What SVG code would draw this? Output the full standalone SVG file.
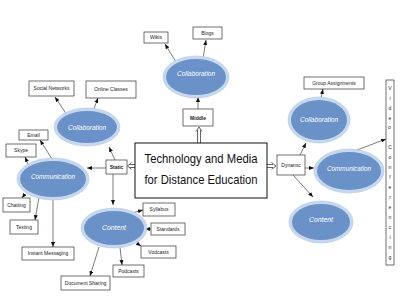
<svg xmlns="http://www.w3.org/2000/svg" width="400" height="296" viewBox="0 0 400 296">
<style>
.bx{fill:#fff;stroke:#333;stroke-width:0.7}
.lb{font-family:"Liberation Sans",Arial,sans-serif;font-size:5px;fill:#222;text-anchor:middle}
.halo{fill:#c6d8ee;stroke:#b4c8e2;stroke-width:0.6}
.el{fill:#6b91c9}
.et{font-family:"Liberation Sans",Arial,sans-serif;font-size:7px;fill:#fff;text-anchor:middle;font-style:italic}
.cn{stroke:#222;stroke-width:0.6;fill:none;marker-end:url(#ah)}
.ho{stroke:#222;stroke-width:0.7;fill:none}
</style>
<defs>
<marker id="ah" markerUnits="userSpaceOnUse" markerWidth="5" markerHeight="4" refX="5" refY="2" orient="auto">
<path d="M0,0 L5,2 L0,4 z" fill="#111"/>
</marker>
</defs>
<rect width="400" height="296" fill="#fff"/>

<g id="connectors">
<path class="cn" d="M176,62 L165,44"/>
<path class="cn" d="M203,59 L206,40"/>
<path class="cn" d="M198,109 L198,97"/>
<path class="ho" d="M197.5,143 V130 M200.5,143 V130 M196,131.5 L199,127 L202,131.5"/>
<path class="ho" d="M135,164.5 H129.5 M135,167.5 H129.5 M131.5,162.5 L127.5,166 L131.5,169.5"/>
<path class="ho" d="M267,164.5 H273 M267,167.5 H273 M271.5,162.5 L276,166 L271.5,169.5"/>
<path class="cn" d="M67,115 L55,97"/>
<path class="cn" d="M93,111 L98,98"/>
<path class="cn" d="M115,160 L109,147"/>
<path class="cn" d="M106,168 L87,168"/>
<path class="cn" d="M113,174 L113,205"/>
<path class="cn" d="M52,159 L40,140"/>
<path class="cn" d="M29,166 L25,157"/>
<path class="cn" d="M25,194 L22,198"/>
<path class="cn" d="M39,197 L35,220"/>
<path class="cn" d="M53,198 L53,247"/>
<path class="cn" d="M128,214 L143,210"/>
<path class="cn" d="M151,229 L145,229"/>
<path class="cn" d="M132,240 L141,246"/>
<path class="cn" d="M120,247 L122,265"/>
<path class="cn" d="M99,247 L90,276"/>
<path class="cn" d="M300,155 L306,143"/>
<path class="cn" d="M305,168 L314,168"/>
<path class="cn" d="M293,175 L313,197"/>
<path class="cn" d="M321,98 L323,89"/>
<path class="cn" d="M357,150 L386,139"/>
</g>

<g id="main">
<rect x="135" y="143" width="132" height="55" fill="#fff" stroke="#111" stroke-width="1"/>
<text x="201" y="163" font-family="'Liberation Sans',Arial,sans-serif" font-size="13" fill="#111" text-anchor="middle" textLength="113" lengthAdjust="spacingAndGlyphs">Technology and Media</text>
<text x="201" y="184" font-family="'Liberation Sans',Arial,sans-serif" font-size="13" fill="#111" text-anchor="middle" textLength="113" lengthAdjust="spacingAndGlyphs">for Distance Education</text>
</g>

<g id="middle"><rect class="bx" x="183" y="109" width="30" height="17"/><text class="lb" x="198" y="119.5" font-weight="bold">Middle</text></g>
<g id="static"><rect class="bx" x="106" y="160" width="21" height="14"/><text class="lb" x="116.5" y="168.8" font-weight="bold" font-size="4.5">Static</text></g>
<g id="dynamic"><rect class="bx" x="277" y="155" width="28" height="20"/><text class="lb" x="291" y="166.5" font-size="4.5">Dynamic</text></g>

<g id="collab-top">
<ellipse class="halo" cx="196" cy="77" rx="33" ry="21"/><ellipse class="el" cx="196" cy="77" rx="30" ry="18"/>
<text class="et" x="196" y="76" textLength="38" lengthAdjust="spacingAndGlyphs">Collaboration</text>
</g>
<g id="wikis"><rect class="bx" x="144" y="32" width="24" height="11"/><text class="lb" x="156" y="39.3">Wikis</text></g>
<g id="blogs"><rect class="bx" x="193" y="27" width="29" height="12"/><text class="lb" x="207.5" y="34.8">Blogs</text></g>

<g id="collab-left">
<ellipse class="halo" cx="87" cy="127" rx="33" ry="19"/><ellipse class="el" cx="87" cy="127" rx="30" ry="16"/>
<text class="et" x="87" y="130" textLength="38" lengthAdjust="spacingAndGlyphs">Collaboration</text>
</g>
<g id="social"><rect class="bx" x="29" y="81" width="45" height="15"/><text class="lb" x="51.5" y="90.3">Social Networks</text></g>
<g id="online"><rect class="bx" x="86" y="81" width="50" height="17"/><text class="lb" x="111" y="91.3">Online Classes</text></g>

<g id="comm-left">
<ellipse class="halo" cx="53" cy="179" rx="36" ry="21"/><ellipse class="el" cx="53" cy="179" rx="33" ry="18"/>
<text class="et" x="53" y="178.5" textLength="44" lengthAdjust="spacingAndGlyphs">Communication</text>
</g>
<g id="email"><rect class="bx" x="19" y="130" width="29" height="10"/><text class="lb" x="33.5" y="136.8" font-size="4.5">Email</text></g>
<g id="skype"><rect class="bx" x="6" y="144" width="30" height="13"/><text class="lb" x="21" y="152.2">Skype</text></g>
<g id="chatting"><rect class="bx" x="3" y="198" width="27" height="14"/><text class="lb" x="16.5" y="206.8">Chatting</text></g>
<g id="texting"><rect class="bx" x="10" y="220" width="28" height="14"/><text class="lb" x="24" y="228.8">Texting</text></g>
<g id="im"><rect class="bx" x="22" y="247" width="52" height="13"/><text class="lb" x="48" y="255.3">Instant Messaging</text></g>

<g id="content-left">
<ellipse class="halo" cx="114" cy="228" rx="33" ry="20"/><ellipse class="el" cx="114" cy="228" rx="30" ry="17"/>
<text class="et" x="114" y="229.5" textLength="24" lengthAdjust="spacingAndGlyphs">Content</text>
</g>
<g id="syllabus"><rect class="bx" x="143" y="203" width="32" height="13"/><text class="lb" x="159" y="211.3">Syllabus</text></g>
<g id="standards"><rect class="bx" x="151" y="223" width="34" height="12"/><text class="lb" x="168" y="230.8">Standards</text></g>
<g id="vodcasts"><rect class="bx" x="141" y="246" width="35" height="12"/><text class="lb" x="158.5" y="253.8">Vodcasts</text></g>
<g id="podcasts"><rect class="bx" x="113" y="265" width="31" height="12"/><text class="lb" x="128.5" y="272.8">Podcasts</text></g>
<g id="docshare"><rect class="bx" x="61" y="276" width="49" height="14"/><text class="lb" x="85.5" y="284.8">Document Sharing</text></g>

<g id="collab-right">
<ellipse class="halo" cx="319" cy="120" rx="31" ry="23"/><ellipse class="el" cx="319" cy="120" rx="28" ry="20"/>
<text class="et" x="319" y="122" textLength="38" lengthAdjust="spacingAndGlyphs">Collaboration</text>
</g>
<g id="group"><rect class="bx" x="304" y="77" width="60" height="12"/><text class="lb" x="334" y="84.8">Group Assignments</text></g>

<g id="comm-right">
<ellipse class="halo" cx="349" cy="171" rx="35" ry="22"/><ellipse class="el" cx="349" cy="171" rx="32" ry="19"/>
<text class="et" x="349" y="170.5" font-style="normal" textLength="44" lengthAdjust="spacingAndGlyphs">Communication</text>
</g>

<g id="content-right">
<ellipse class="halo" cx="321" cy="222" rx="32" ry="21"/><ellipse class="el" cx="321" cy="222" rx="29" ry="18"/>
<text class="et" x="321" y="221.5" textLength="24" lengthAdjust="spacingAndGlyphs">Content</text>
</g>

<g id="video">
<rect class="bx" x="386" y="80" width="8" height="185"/>
<text class="lb" font-size="5.5">
<tspan x="390" y="90">V</tspan><tspan x="390" y="100">i</tspan><tspan x="390" y="110">d</tspan><tspan x="390" y="120">e</tspan><tspan x="390" y="129">o</tspan>
<tspan x="390" y="149">C</tspan><tspan x="390" y="159">o</tspan><tspan x="390" y="169">n</tspan><tspan x="390" y="179">f</tspan><tspan x="390" y="189">e</tspan><tspan x="390" y="199">r</tspan><tspan x="390" y="209">e</tspan><tspan x="390" y="219">n</tspan><tspan x="390" y="229">c</tspan><tspan x="390" y="239">i</tspan><tspan x="390" y="249">n</tspan><tspan x="390" y="259">g</tspan>
</text>
</g>
</svg>
